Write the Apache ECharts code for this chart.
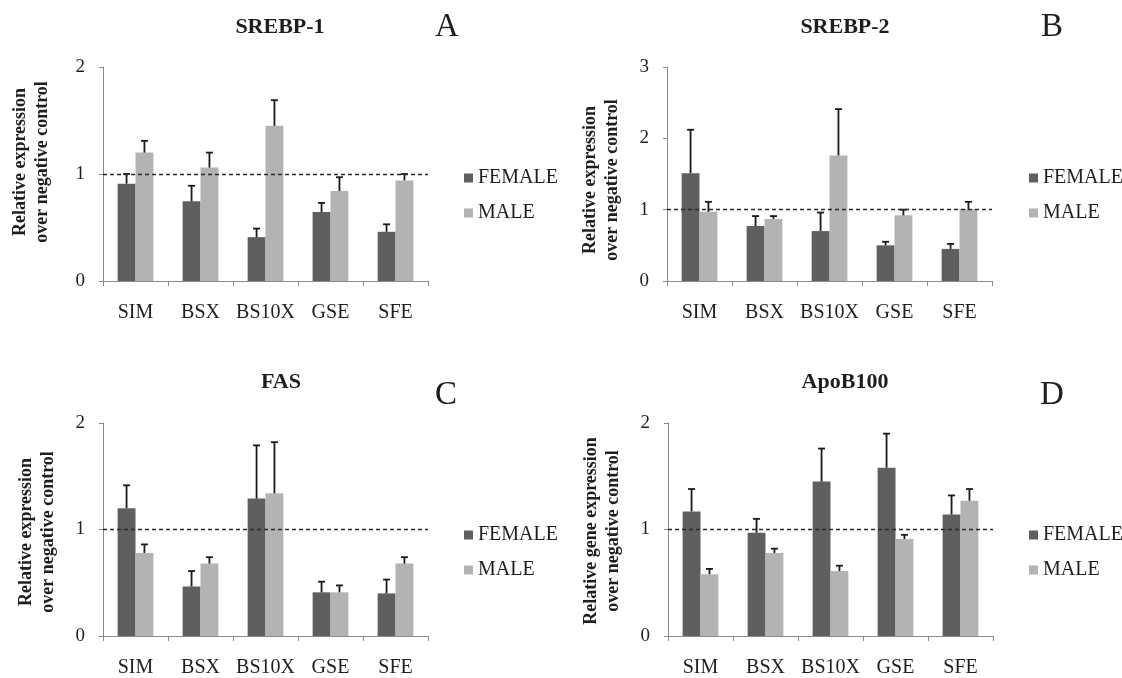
<!DOCTYPE html>
<html>
<head>
<meta charset="utf-8">
<script src="https://cdn.jsdelivr.net/npm/echarts@6/dist/echarts.min.js"></script>
<style>
  html, body { margin: 0; padding: 0; background: #fff; }
  #main { width: 1122px; height: 678px; }
</style>
</head>
<body>
<div id="main"></div>
<script>
// data
const categories = ['SIM', 'BSX', 'BS10X', 'GSE', 'SFE']

const srebp1Female    = [0.91, 0.745, 0.41, 0.645, 0.46]
const srebp1FemaleErr = [0.09, 0.145, 0.08, 0.085, 0.07]
const srebp1Male      = [1.20, 1.06, 1.45, 0.84, 0.94]
const srebp1MaleErr   = [0.11, 0.14, 0.24, 0.13, 0.06]

const srebp2Female    = [1.51, 0.77, 0.70, 0.50, 0.45]
const srebp2FemaleErr = [0.61, 0.14, 0.26, 0.05, 0.07]
const srebp2Male      = [0.97, 0.87, 1.76, 0.92, 1.01]
const srebp2MaleErr   = [0.14, 0.04, 0.65, 0.08, 0.10]

const fasFemale    = [1.20, 0.465, 1.29, 0.41, 0.40]
const fasFemaleErr = [0.215, 0.145, 0.50, 0.10, 0.13]
const fasMale      = [0.78, 0.68, 1.34, 0.41, 0.68]
const fasMaleErr   = [0.08, 0.06, 0.48, 0.065, 0.06]

const apoFemale    = [1.17, 0.97, 1.45, 1.58, 1.14]
const apoFemaleErr = [0.21, 0.13, 0.31, 0.32, 0.18]
const apoMale      = [0.58, 0.78, 0.61, 0.91, 1.27]
const apoMaleErr   = [0.05, 0.04, 0.05, 0.04, 0.11]

const yMax = [2, 3, 2, 2]
const titles = ['SREBP-1', 'SREBP-2', 'FAS', 'ApoB100']
const letters = ['A', 'B', 'C', 'D']
const yNames = [
  'Relative expression\nover negative control',
  'Relative expression\nover negative control',
  'Relative expression\nover negative control',
  'Relative gene expression\nover negative control'
]

const panels = [
  [srebp1Female, srebp1FemaleErr, srebp1Male, srebp1MaleErr],
  [srebp2Female, srebp2FemaleErr, srebp2Male, srebp2MaleErr],
  [fasFemale, fasFemaleErr, fasMale, fasMaleErr],
  [apoFemale, apoFemaleErr, apoMale, apoMaleErr]
]

// layout
const font = 'Liberation Serif, Times New Roman, serif'
const textColor = '#1e1e1e'
const femaleColor = '#5f5f5f'
const maleColor = '#b3b3b3'
const BAR = 0.275

const grids = [
  { left: 103, top: 67,  width: 325, height: 214 },
  { left: 667, top: 67,  width: 325, height: 214 },
  { left: 103, top: 423, width: 325, height: 213 },
  { left: 668, top: 423, width: 325, height: 213 }
]
const titlePos = [[280, 27], [845, 27], [281, 382], [845, 382]]
const letterPos = [[447, 27], [1052, 27], [446, 395], [1052, 395]]
const legendPos = [[459, 163], [1024, 163], [459, 520], [1024, 520]]
const yNamePos = [[31, 162], [601, 180], [37, 532], [602, 531]]

const errorBar = side => (params, api) => {
  const base = api.coord([api.value(0), api.value(1)])
  const top = api.coord([api.value(0), api.value(1) + api.value(2)])
  const band = api.size([1, 0])[0]
  const cx = base[0] + side * band * BAR / 2
  const style = { stroke: '#1a1a1a', lineWidth: 1.8 }
  return {
    type: 'group',
    children: [
      { type: 'line', shape: { x1: cx, y1: base[1], x2: cx, y2: top[1] }, style },
      { type: 'line', shape: { x1: cx - 3.5, y1: top[1], x2: cx + 3.5, y2: top[1] }, style }
    ]
  }
}

const xAxis = grids.map((g, i) => ({
  type: 'category', gridIndex: i, data: categories,
  axisLine: { lineStyle: { color: '#8a8a8a', width: 1 } },
  axisTick: { show: true, length: 5, lineStyle: { color: '#8a8a8a' } },
  axisLabel: { color: textColor, fontFamily: font, fontSize: 20, margin: 22, interval: 0 }
}))

const yAxis = grids.map((g, i) => ({
  type: 'value', gridIndex: i, min: 0, max: yMax[i], interval: 1,
  axisLine: { show: true, lineStyle: { color: '#8a8a8a', width: 1 } },
  axisTick: { show: true, length: 4, lineStyle: { color: '#8a8a8a' } },
  splitLine: { show: false },
  axisLabel: { color: textColor, fontFamily: font, fontSize: 19, margin: 18 }
}))

const series = []
panels.forEach((p, i) => {
  const [f, fe, m, me] = p
  series.push({
    name: 'FEMALE', type: 'bar', xAxisIndex: i, yAxisIndex: i,
    data: f, barWidth: BAR * 100 + '%', barGap: '0%',
    itemStyle: { color: femaleColor },
    markLine: {
      silent: true, symbol: 'none', label: { show: false },
      lineStyle: { type: [4, 3], color: '#2a2a2a', width: 1.4 },
      data: [{ yAxis: 1 }]
    }
  })
  series.push({
    name: 'MALE', type: 'bar', xAxisIndex: i, yAxisIndex: i,
    data: m, barWidth: BAR * 100 + '%', barGap: '0%',
    itemStyle: { color: maleColor }
  })
  series.push({
    type: 'custom', xAxisIndex: i, yAxisIndex: i, z: 3,
    renderItem: errorBar(-1),
    data: f.map((v, k) => [k, v, fe[k]])
  })
  series.push({
    type: 'custom', xAxisIndex: i, yAxisIndex: i, z: 3,
    renderItem: errorBar(1),
    data: m.map((v, k) => [k, v, me[k]])
  })
})

const legend = legendPos.map(([x, y]) => ({
  left: x, top: y, orient: 'vertical', icon: 'rect',
  itemWidth: 9, itemHeight: 9, itemGap: 15,
  data: ['FEMALE', 'MALE'],
  textStyle: { color: textColor, fontFamily: font, fontSize: 20 }
}))

const graphic = []
titles.forEach((t, i) => {
  graphic.push({
    type: 'text', x: titlePos[i][0], y: titlePos[i][1],
    style: { text: t, fill: textColor, font: 'bold 22px ' + font, textAlign: 'center', textVerticalAlign: 'middle' }
  })
  graphic.push({
    type: 'text', x: letterPos[i][0], y: letterPos[i][1],
    style: { text: letters[i], fill: textColor, font: '33px ' + font, textAlign: 'center', textVerticalAlign: 'middle' }
  })
  graphic.push({
    type: 'text', x: yNamePos[i][0], y: yNamePos[i][1], rotation: Math.PI / 2,
    style: { text: yNames[i], fill: textColor, font: 'bold 18px ' + font, lineHeight: 22, textAlign: 'center', textVerticalAlign: 'middle' }
  })
})

const options = {
  animation: false,
  backgroundColor: '#fff',
  grid: grids,
  xAxis, yAxis, series, legend, graphic
}

const myChart = echarts.init(document.getElementById('main'))
myChart.setOption(options)
window.onresize = () => myChart.resize()
</script>
</body>
</html>
